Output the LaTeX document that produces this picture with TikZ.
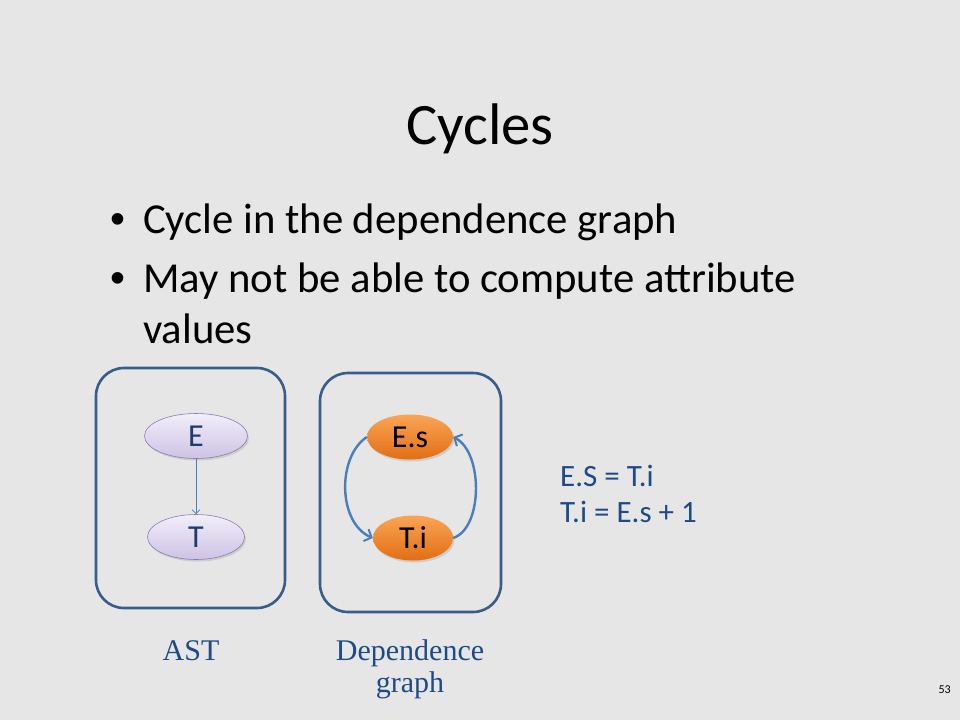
\documentclass[tikz,border=0pt]{standalone}
\usepackage{fontspec}
\setmainfont{Carlito}
\newfontfamily\timesfont{Liberation Serif}
\newfontfamily\arialfont{Liberation Sans}
\usetikzlibrary{positioning,shapes.geometric,shadows,arrows.meta}
\definecolor{slidebg}{RGB}{230,230,230}
\definecolor{framecol}{RGB}{56,93,138}
\definecolor{arccol}{RGB}{74,126,187}
\definecolor{navytext}{RGB}{31,60,110}
\definecolor{eqblue}{RGB}{30,75,135}
\definecolor{lavtop}{RGB}{242,238,250}
\definecolor{lavbot}{RGB}{205,195,228}
\definecolor{lavedge}{RGB}{140,125,180}
\definecolor{orgtop}{RGB}{250,165,85}
\definecolor{orgbot}{RGB}{226,110,20}

\begin{document}
\begin{tikzpicture}[x=1pt,y=-1pt,node distance=101pt,
    astnode/.style={ellipse, draw=lavedge, line width=0.6pt, top color=lavtop, bottom color=lavbot,
        minimum height=45pt, inner sep=0pt, text=navytext, font=\fontsize{32}{34}\selectfont,
        drop shadow={opacity=0.25, shadow xshift=1.5pt, shadow yshift=-2pt}},
    depnode/.style={ellipse, top color=orgtop, bottom color=orgbot,
        minimum height=45pt, inner sep=0pt, font=\fontsize{32}{34}\selectfont,
        drop shadow={opacity=0.25, shadow xshift=1.5pt, shadow yshift=-2pt}},
    frame/.style={draw=framecol, line width=2.6pt, rounded corners=28pt},
    cyc/.style={draw=arccol, line width=2.4pt, -{Straight Barb[length=6pt,width=13pt,line width=2pt]}},
    bullet/.style={anchor=base, inner sep=0pt, font=\arialfont\fontsize{42.7}{48}\selectfont},
    sublabel/.style={anchor=base, inner sep=0pt, text=eqblue, font=\timesfont\fontsize{30}{32}\selectfont},
]
    \fill[slidebg] (0,0) rectangle (960,720);

    % title and bullets
    \node (0) [anchor=base, inner sep=0pt, font=\fontsize{58.7}{60}\selectfont] at (480,144) {Cycles};
    \node (b1) [bullet] at (118,233) {•};
    \node (t1) [anchor=base west, inner sep=0pt, font=\fontsize{42.7}{48}\selectfont] at (143,233) {Cycle in the dependence graph};
    \node (b2) [bullet] at (118,292) {•};
    \node (t2) [anchor=base west, inner sep=0pt, font=\fontsize{42.7}{48}\selectfont] at (143,292) {May not be able to compute attribute};
    \node (t3) [anchor=base west, inner sep=0pt, font=\fontsize{42.7}{48}\selectfont] at (143,343) {values};

    % boxes
    \draw[frame] (96,368) rectangle (285,608);
    \draw[frame] (320,373) rectangle (501,612);

    % AST
    \node [astnode, minimum width=103pt](1) at (196,436) {E};
    \node [astnode, minimum width=97pt](2) [below of = 1]{T};

    % dependence graph
    \node [depnode, minimum width=86pt](3) at (410,437) {E.s};
    \node [depnode, minimum width=80pt](4) [below of = 3, xshift=3pt]{T.i};

    \draw[draw=arccol, line width=0.8pt, -{Straight Barb[length=4pt,width=8pt]}] (1) -- (2);
    \draw[cyc] (3.west) .. controls +(-30,20) and +(-35,-15) .. (4.west);
    \draw[cyc] (4.east) .. controls +(30,-10) and +(30,15) .. (3.east);

    % rules (base anchor sits on the last line)
    \node (5) [anchor=base west, inner sep=0pt, align=left, text=eqblue, font=\fontsize{31}{36}\selectfont] at (560,522) {E.S = T.i\\T.i = E.s + 1};

    % captions
    \node (6) [sublabel] at (191,660) {AST};
    \node (7) [sublabel, align=center] at (410,692) {Dependence\\graph};

    \node (8) [anchor=base east, inner sep=0pt, font=\fontsize{12}{14}\selectfont] at (951,693) {53};
\end{tikzpicture}
\end{document}
